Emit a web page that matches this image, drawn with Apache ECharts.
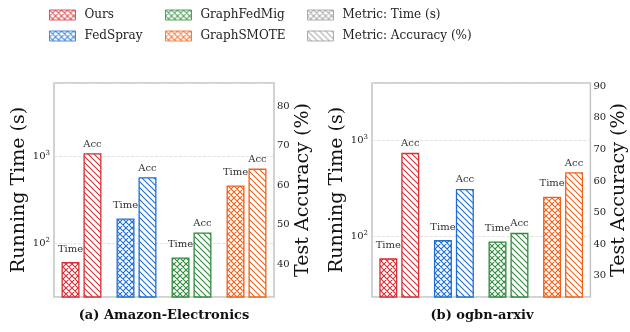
<!DOCTYPE html>
<html><head><meta charset="utf-8">
<script src="https://cdn.jsdelivr.net/npm/echarts@6/dist/echarts.min.js"></script>
<style>html,body{margin:0;padding:0;background:#fff}#c{width:630px;height:332px}</style>
</head><body><div id="c"></div>
<script>
// ---- data ----
const methods = ['Ours', 'FedSpray', 'GraphFedMig', 'GraphSMOTE'];
const metricNames = ['Metric: Time (s)', 'Metric: Accuracy (%)'];
const timeA = [61, 193, 69, 461];        // Amazon-Electronics running time (s)
const accA = [68.1, 62.0, 48.1, 64.2];    // Amazon-Electronics test accuracy (%)
const timeB = [58.6, 90.8, 88, 257];      // ogbn-arxiv running time (s)
const accB = [68.9, 57.5, 43.6, 62.8];    // ogbn-arxiv test accuracy (%)
const captions = ['(a) Amazon-Electronics', '(b) ogbn-arxiv'];
const barLabels = ['Time', 'Acc'];

// ---- style ----
const SERIF = 'DejaVu Serif';
const colors = ['#d62f35', '#1f6fd1', '#2e8b3b', '#f0621a'];
const GRAY = '#9a9a9a';

function hatch(color, cross) {
  const s = 6, c = document.createElement('canvas');
  c.width = s; c.height = s;
  const g = c.getContext('2d');
  g.fillStyle = '#fff'; g.fillRect(0, 0, s, s);
  g.strokeStyle = color; g.lineWidth = 1.1;
  g.beginPath();
  const seg = (x1, y1, x2, y2) => { g.moveTo(x1, y1); g.lineTo(x2, y2); };
  seg(-1, -1, s + 1, s + 1); seg(-1, s - 1, 1, s + 1); seg(s - 1, -1, s + 1, 1);
  if (cross) { seg(-1, s + 1, s + 1, -1); seg(-1, 1, 1, -1); seg(s - 1, s + 1, s + 1, s - 1); }
  g.stroke();
  return { image: c, repeat: 'repeat' };
}

function barSeries(vals, mi, gi) {
  return {
    type: 'bar', xAxisIndex: gi, yAxisIndex: gi * 2 + mi,
    barWidth: 18, barGap: '22%',
    data: vals.map((v, k) => ({
      value: v,
      itemStyle: { color: hatch(colors[k], mi === 0), borderColor: colors[k], borderWidth: 1.3 }
    })),
    label: { show: true, position: 'top', distance: mi === 0 ? 8 : 4, formatter: barLabels[mi],
      fontFamily: SERIF, fontSize: 10, color: '#333' },
    silent: true, animation: false
  };
}

function yAxes(gi, tmin, tmax, amin, amax) {
  return [
    { type: 'log', logBase: 10, gridIndex: gi, min: tmin, max: tmax, position: 'left',
      name: 'Running Time (s)', nameLocation: 'middle', nameGap: 25,
      nameTextStyle: { fontFamily: SERIF, fontSize: 19, color: '#111' },
      axisLine: { show: false }, axisTick: { show: false }, minorTick: { show: false },
      axisLabel: { fontFamily: SERIF, fontSize: 10, color: '#222', margin: 4,
        formatter: v => { const e = Math.log10(v); return Math.abs(e - Math.round(e)) < 1e-6 ? '10{s|' + Math.round(e) + '}' : ''; },
        rich: { s: { fontFamily: SERIF, fontSize: 7, padding: [0, 0, 6, 0] } } },
      splitLine: { show: true, lineStyle: { color: '#dcdcdc', type: 'dashed', width: 0.8 } } },
    { type: 'value', gridIndex: gi, min: amin, max: amax, position: 'right',
      name: 'Test Accuracy (%)', nameLocation: 'middle', nameGap: 19,
      nameTextStyle: { fontFamily: SERIF, fontSize: 19, color: '#111' },
      axisLine: { show: false }, axisTick: { show: false },
      axisLabel: { fontFamily: SERIF, fontSize: 10, color: '#222', margin: 3,
        formatter: v => (Math.abs(v / 10 - Math.round(v / 10)) < 1e-6 ? String(Math.round(v)) : '') },
      splitLine: { show: false } }
  ];
}

const legendSeries = [];
const legendData = [];
methods.forEach((m, k) => {
  const st = { color: hatch(colors[k], true), borderColor: colors[k], borderWidth: 1 };
  legendSeries.push({ type: 'scatter', name: m, data: [], xAxisIndex: 0, yAxisIndex: 0, itemStyle: st });
  legendData.push({ name: m, itemStyle: st });
});
metricNames.forEach((m, k) => {
  const st = { color: hatch(GRAY, k === 0), borderColor: GRAY, borderWidth: 1 };
  legendSeries.push({ type: 'scatter', name: m, data: [], xAxisIndex: 0, yAxisIndex: 0, itemStyle: st });
  legendData.push({ name: m, itemStyle: st });
});

function legendCol(left, items) {
  return { left: left, top: 9, orient: 'vertical', padding: 0, itemWidth: 26, itemHeight: 10, itemGap: 9,
    icon: 'rect', selectedMode: false, data: items,
    textStyle: { fontFamily: SERIF, fontSize: 12, color: '#222', padding: [0, 0, 0, 4] } };
}

const option = {
  animation: false,
  backgroundColor: '#fff',
  title: captions.map((t, i) => ({ text: t, left: i === 0 ? 164 : 482, top: 309, textAlign: 'center', padding: 0,
    textStyle: { fontFamily: SERIF, fontSize: 13, fontWeight: 'bold', color: '#111' } })),
  legend: [legendCol(49, legendData.slice(0, 2)), legendCol(165, legendData.slice(2, 4)), legendCol(307, legendData.slice(4, 6))],
  grid: [
    { left: 54, top: 83, width: 220, height: 214, show: true, borderColor: '#c4c4c4', borderWidth: 1.5 },
    { left: 372, top: 83, width: 220, height: 214, show: true, borderColor: '#c4c4c4', borderWidth: 1.5 }
  ],
  xAxis: [0, 1].map(gi => ({ type: 'category', gridIndex: gi, data: methods,
    axisLine: { show: false }, axisTick: { show: false }, axisLabel: { show: false }, splitLine: { show: false } })),
  yAxis: [...yAxes(0, 24.3, 6860, 31.8, 85.8), ...yAxes(1, 23.2, 3929, 23.3, 91)],
  series: [
    barSeries(timeA, 0, 0), barSeries(accA, 1, 0),
    barSeries(timeB, 0, 1), barSeries(accB, 1, 1),
    ...legendSeries
  ]
};
const chart = echarts.init(document.getElementById('c'), null, { renderer: 'canvas' });
chart.setOption(option);
</script></body></html>
